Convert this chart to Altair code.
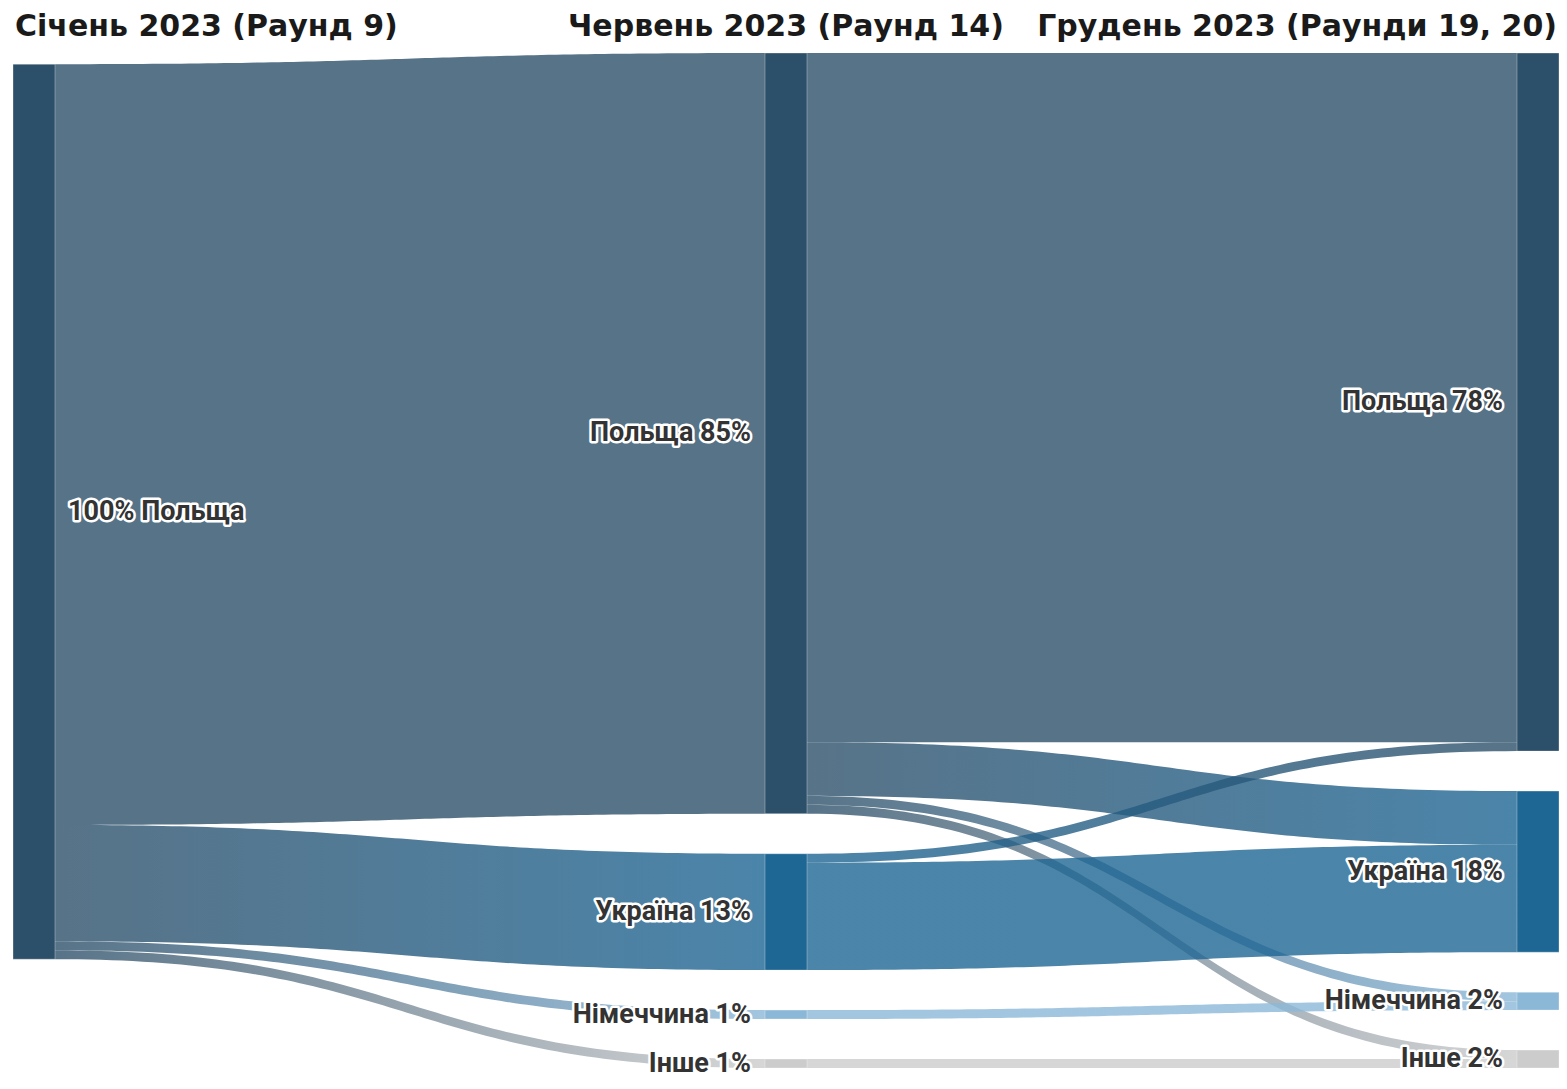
import altair as alt
import pandas as pd
import numpy as np

# ---------------- data ----------------
titles = ["Січень 2023 (Раунд 9)", "Червень 2023 (Раунд 14)", "Грудень 2023 (Раунди 19, 20)"]
countries = ["Польща", "Україна", "Німеччина", "Інше"]
jan_values = [100, 0, 0, 0]
jun_values = [85, 13, 1, 1]
dec_values = [78, 18, 2, 2]

flow_src_col = [0, 0, 0, 0, 1, 1, 1, 1, 1, 1, 1, 1]
flow_src = ["Польща", "Польща", "Польща", "Польща",
            "Польща", "Польща", "Польща", "Польща",
            "Україна", "Україна", "Німеччина", "Інше"]
flow_tgt = ["Польща", "Україна", "Німеччина", "Інше",
            "Польща", "Україна", "Німеччина", "Інше",
            "Польща", "Україна", "Німеччина", "Інше"]
flow_val = [85, 13, 1, 1, 77, 6, 1, 1, 1, 12, 1, 1]

node_colors = {"Польща": "#2d506a", "Україна": "#1e6694",
               "Німеччина": "#8cb8d8", "Інше": "#cccccc"}

# ---------------- layout ----------------
W, H = 1551, 1073
col_left = [5, 757, 1509]
node_w = 42
top_px = 45
unit_px = 8.95
gap_px = 40
gap_u = gap_px / unit_px
col_offset = [1.25, 0.0, 0.0]
y_dom = [-top_px / unit_px, (H - top_px) / unit_px]

col_values = [jan_values, jun_values, dec_values]
nodes = {}
node_rows = []
for c, vals in enumerate(col_values):
    y = col_offset[c]
    for name, v in zip(countries, vals):
        if v <= 0:
            continue
        nodes[(c, name)] = {"y0": y, "y1": y + v, "out": y, "in": y}
        node_rows.append({"col": c, "name": name, "value": v,
                          "x0": col_left[c], "x1": col_left[c] + node_w,
                          "y0": y, "y1": y + v, "color": node_colors[name]})
        y += v + gap_u
nodes_df = pd.DataFrame(node_rows)

links = []
for i in range(len(flow_val)):
    links.append({"i": i, "c": flow_src_col[i], "s": flow_src[i],
                  "t": flow_tgt[i], "v": flow_val[i]})
for lk in sorted(links, key=lambda d: (d["c"], countries.index(d["s"]), countries.index(d["t"]))):
    n = nodes[(lk["c"], lk["s"])]
    lk["sy0"] = n["out"]; n["out"] += lk["v"]; lk["sy1"] = n["out"]
for lk in sorted(links, key=lambda d: (d["c"], countries.index(d["t"]), countries.index(d["s"]))):
    n = nodes[(lk["c"] + 1, lk["t"])]
    lk["ty0"] = n["in"]; n["in"] += lk["v"]; lk["ty1"] = n["in"]

xs = alt.Scale(domain=[0, W], nice=False, zero=False)
ys = alt.Scale(domain=y_dom, reverse=True, nice=False, zero=False)

layers = []
t = np.linspace(0, 1, 90)
for lk in links:
    x0 = col_left[lk["c"]] + node_w
    x1 = col_left[lk["c"] + 1]
    xm = (x0 + x1) / 2
    bx = (1 - t) ** 3 * x0 + 3 * (1 - t) ** 2 * t * xm + 3 * (1 - t) * t ** 2 * xm + t ** 3 * x1
    s = 3 * t ** 2 - 2 * t ** 3
    df = pd.DataFrame({"x": bx,
                       "ya": lk["sy0"] * (1 - s) + lk["ty0"] * s,
                       "yb": lk["sy1"] * (1 - s) + lk["ty1"] * s})
    grad = alt.Gradient(gradient="linear",
                        stops=[alt.GradientStop(color=node_colors[lk["s"]], offset=0),
                               alt.GradientStop(color=node_colors[lk["t"]], offset=1)],
                        x1=0, x2=1, y1=0, y2=0)
    layers.append(
        alt.Chart(df).mark_area(color=grad, opacity=0.8, interpolate="linear")
        .encode(x=alt.X("x:Q", scale=xs, axis=None),
                y=alt.Y("ya:Q", scale=ys, axis=None),
                y2="yb:Q")
    )

layers.append(
    alt.Chart(nodes_df).mark_rect(stroke="#ffffff", strokeWidth=0.6, strokeOpacity=0.5)
    .encode(x=alt.X("x0:Q", scale=xs, axis=None), x2="x1:Q",
            y=alt.Y("y0:Q", scale=ys, axis=None), y2="y1:Q",
            fill=alt.Fill("color:N", scale=None))
)

lab = nodes_df.copy()
lab["yc"] = (lab["y0"] + lab["y1"]) / 2
lab["label"] = [f"{v}% {n}" if c == 0 else f"{n} {v}%" for c, n, v in zip(lab["col"], lab["name"], lab["value"])]
left_lab = lab[lab["col"] == 0]
right_lab = lab[lab["col"] > 0]

FONT = "Roboto"
LSIZE = 27
for sub, align, xf, dx in [(left_lab, "left", "x1:Q", 13), (right_lab, "right", "x0:Q", -14)]:
    base = alt.Chart(sub).encode(x=alt.X(xf, scale=xs, axis=None),
                                 y=alt.Y("yc:Q", scale=ys, axis=None),
                                 text="label:N")
    layers.append(base.mark_text(align=align, baseline="middle", dx=dx, font=FONT,
                                 fontSize=LSIZE, fontWeight="bold", color="#ffffff",
                                 stroke="#ffffff", strokeWidth=5, strokeJoin="round"))
    layers.append(base.mark_text(align=align, baseline="middle", dx=dx, font=FONT,
                                 fontSize=LSIZE, fontWeight="bold", color="#333333"))

title_df = pd.DataFrame({"title": titles,
                         "x": [col_left[0], col_left[1] + node_w / 2, col_left[2] + node_w],
                         "col": [0, 1, 2]})
for c, align, dx in [(0, "left", 2), (1, "center", 0), (2, "right", -2)]:
    layers.append(
        alt.Chart(title_df[title_df["col"] == c]).mark_text(
            align=align, baseline="alphabetic", dx=dx, font="DejaVu Sans", fontSize=30,
            fontWeight="bold", color="#1a1a1a")
        .encode(x=alt.X("x:Q", scale=xs, axis=None), y=alt.value(28), text="title:N")
    )

chart = alt.layer(*layers).properties(
    width=W, height=H, padding=0, autosize=alt.AutoSizeParams(type="none")
).configure_view(stroke=None)

chart.save("out.html", embed_options={"renderer": "svg", "actions": False})
